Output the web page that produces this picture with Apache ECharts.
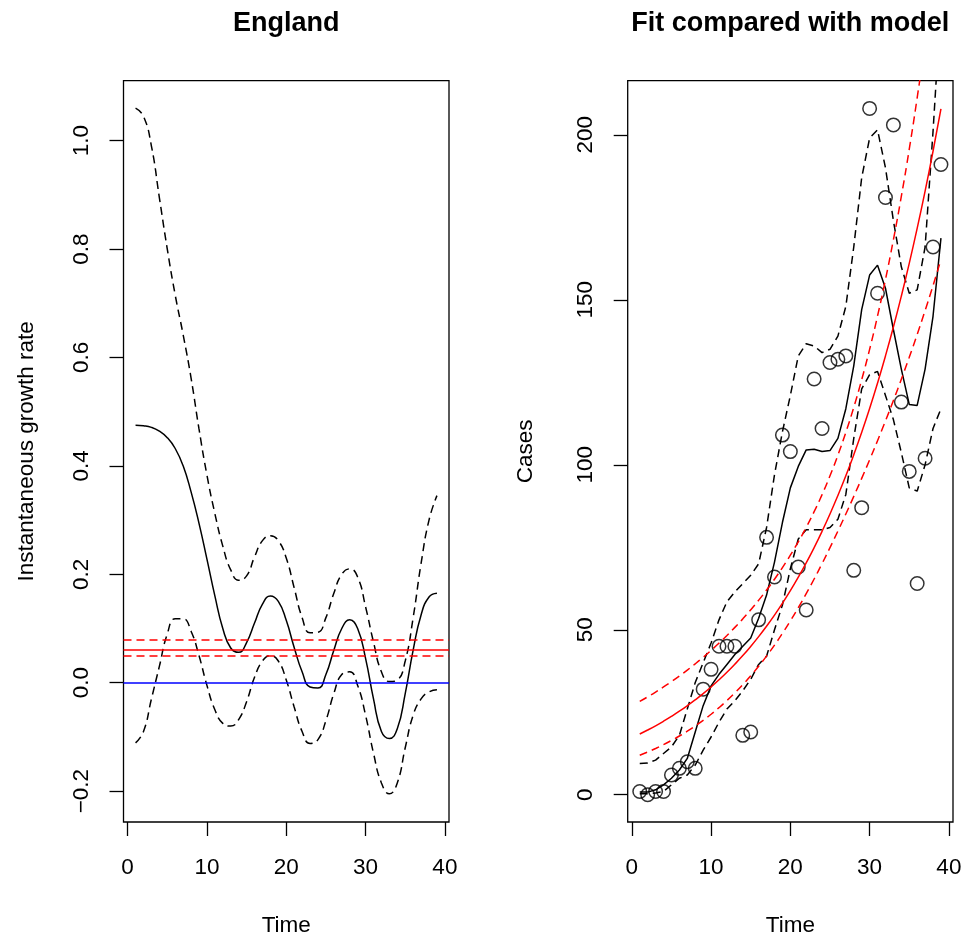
<!DOCTYPE html>
<html>
<head>
<meta charset="utf-8">
<script src="https://cdn.jsdelivr.net/npm/echarts@6/dist/echarts.min.js"></script>
<style>
  html, body { margin: 0; padding: 0; background: #fff; }
  #chart { width: 968px; height: 942px; }
</style>
</head>
<body>
<div id="chart"></div>
<script>
// Time index (days)
const days = [1,2,3,4,5,6,7,8,9,10,11,12,13,14,15,16,17,18,19,20,21,22,23,24,25,26,27,28,29,30,31,32,33,34,35,36,37,38,39];

// Instantaneous growth rate: smoothed estimate and its interval
const growthRate = [0.475,0.474,0.471,0.464,0.452,0.432,0.400,0.352,0.294,0.228,0.160,0.100,0.064,0.056,0.074,0.110,0.145,0.160,0.150,0.115,0.065,0.020,-0.008,-0.010,0.015,0.060,0.100,0.116,0.100,0.045,-0.030,-0.090,-0.103,-0.085,-0.020,0.060,0.125,0.158,0.165];
const growthUpper = [1.060,1.045,0.990,0.895,0.800,0.715,0.642,0.562,0.468,0.383,0.312,0.252,0.208,0.189,0.197,0.232,0.262,0.271,0.262,0.230,0.175,0.120,0.092,0.093,0.120,0.165,0.200,0.210,0.195,0.140,0.075,0.020,0.002,0.005,0.040,0.120,0.220,0.300,0.345];
const growthLower = [-0.111,-0.090,-0.030,0.030,0.090,0.118,0.118,0.095,0.050,-0.005,-0.050,-0.075,-0.080,-0.068,-0.035,0.010,0.040,0.050,0.040,0.005,-0.045,-0.090,-0.112,-0.105,-0.070,-0.020,0.015,0.020,-0.005,-0.060,-0.130,-0.185,-0.205,-0.185,-0.120,-0.060,-0.030,-0.017,-0.013];

// Constant growth rate from the exponential model (lower, estimate, upper) and zero
const modelRate = [0.0497, 0.0639, 0.0792];
const zeroRate = 0;

// Daily cases
const cases = [1,0,1,1,6,8,10,8,32,38,45,45,45,18,19,53,78,66,109,104,69,56,126,111,131,132,133,68,87,208,152,181,203,119,98,64,102,166,191];

// Smoothed case curve and its interval
const casesSmooth = [0.8,0.8,1.5,3,5,7.5,11,19,27,33,36.5,39.5,42.5,45,47.5,53.5,60.5,70.5,82.5,93,99.5,104.5,104.7,104,104.3,108,117,130,147,157.5,160.5,153.5,141,129,118.3,118,129,145,168.7];
const casesSmoothUpper = [9.5,9.6,10.5,12.5,14.5,18,26,34,40,46,53,58.5,61.5,64,66.5,70,81,97,110,121,133,136.7,136,134,135,139,148,166,187,199,201.5,190,174,160,152,153,166,201,240];
const casesSmoothLower = [0.3,0.3,0.5,1,3,5,6,9,13.5,17.5,22,26,28.5,31.5,35,39.5,42,50,57.5,68.5,77.5,80.3,80.3,80.3,81,83.5,91,108,123,127.3,128.3,121,113.7,103.7,93,92,100,111,117];

// Exponential model fit and its interval
const modelCases = [18.40,19.61,20.90,22.28,23.75,25.31,26.98,28.76,30.65,32.67,34.83,37.12,39.57,42.17,44.95,47.91,51.07,54.43,58.02,61.84,65.92,70.26,74.89,79.82,85.08,90.69,96.66,103.03,109.82,117.05,124.77,132.99,141.75,151.09,161.04,171.65,182.96,195.02,207.87];
const modelUpper = [28.28,29.67,31.13,32.68,34.30,35.99,37.79,39.67,41.65,43.74,45.95,48.26,50.72,53.30,56.04,58.95,62.04,65.32,68.84,72.60,76.65,81.02,85.78,90.96,96.66,102.92,109.82,117.41,125.79,134.98,145.08,156.13,168.19,181.32,195.63,211.22,228.11,246.51,266.45];
const modelLower = [11.97,12.96,14.03,15.19,16.45,17.80,19.26,20.85,22.56,24.40,26.40,28.55,30.87,33.36,36.05,38.94,42.04,45.35,48.90,52.67,56.69,60.93,65.38,70.04,74.89,79.92,85.08,90.41,95.88,101.50,107.30,113.28,119.47,125.90,132.57,139.50,146.74,154.29,162.17];

// Axis ticks
const timeTicks = [0, 10, 20, 30, 40];
const rateTicks = [-0.2, 0, 0.2, 0.4, 0.6, 0.8, 1.0];
const caseTicks = [0, 50, 100, 150, 200];

const FONT = '"Liberation Sans", Arial, Helvetica, sans-serif';
const LABEL_SIZE = 22.5;
const DASH = [8, 5];

const pairs = arr => days.map((d, i) => [d, arr[i]]);
const fmtRate = v => (v < 0 ? '\u2212' + Math.abs(v).toFixed(1) : v.toFixed(1));

function timeAxis(gridIndex) {
  return {
    type: 'value', gridIndex: gridIndex, min: -0.52, max: 40.52,
    name: 'Time', nameLocation: 'middle', nameGap: 92,
    nameTextStyle: { fontFamily: FONT, fontSize: LABEL_SIZE, color: '#000' },
    axisLine: { show: false, onZero: false },
    splitLine: { show: false },
    axisTick: { show: true, customValues: timeTicks, length: 14, lineStyle: { color: '#000', width: 1.3 } },
    axisLabel: { customValues: timeTicks, margin: 34, fontFamily: FONT, fontSize: LABEL_SIZE, color: '#000' }
  };
}

function valueAxis(gridIndex, min, max, ticks, title, gap, fmt) {
  return {
    type: 'value', gridIndex: gridIndex, min: min, max: max,
    name: title, nameLocation: 'middle', nameGap: gap, nameRotate: 90,
    nameTextStyle: { fontFamily: FONT, fontSize: LABEL_SIZE, color: '#000' },
    axisLine: { show: false, onZero: false },
    splitLine: { show: false },
    axisTick: { show: true, customValues: ticks, length: 14, lineStyle: { color: '#000', width: 1.3 } },
    axisLabel: { customValues: ticks, rotate: 90, margin: 30, fontFamily: FONT, fontSize: LABEL_SIZE, color: '#000', formatter: fmt }
  };
}

function line(xi, data, color, dashed, smooth) {
  return {
    type: 'line', xAxisIndex: xi, yAxisIndex: xi, data: pairs(data),
    showSymbol: false, symbol: 'none', smooth: smooth, silent: true,
    lineStyle: { color: color, width: 1.5, type: dashed ? DASH : 'solid' },
    z: 3
  };
}

const growthLine = line(0, growthRate, '#000', false, true);
growthLine.markLine = {
  silent: true, symbol: ['none', 'none'], label: { show: false }, animation: false,
  data: [
    { yAxis: zeroRate, lineStyle: { color: '#0000FF', width: 1.5, type: 'solid' } },
    { yAxis: modelRate[0], lineStyle: { color: '#FF0000', width: 1.5, type: DASH } },
    { yAxis: modelRate[1], lineStyle: { color: '#FF0000', width: 1.5, type: 'solid' } },
    { yAxis: modelRate[2], lineStyle: { color: '#FF0000', width: 1.5, type: DASH } }
  ]
};

const option = {
  animation: false,
  backgroundColor: '#fff',
  grid: [
    { left: 123.5, top: 80.7, width: 325.5, height: 742.6, show: true, borderColor: '#000', borderWidth: 1.3, backgroundColor: 'transparent' },
    { left: 627.7, top: 80.7, width: 325.3, height: 742.6, show: true, borderColor: '#000', borderWidth: 1.3, backgroundColor: 'transparent' }
  ],
  xAxis: [timeAxis(0), timeAxis(1)],
  yAxis: [
    valueAxis(0, -0.257, 1.1105, rateTicks, 'Instantaneous growth rate', 85.5, fmtRate),
    valueAxis(1, -8.26, 216.4, caseTicks, 'Cases', 90, v => String(v))
  ],
  graphic: [
    { type: 'text', x: 286.3, y: 23.5, style: { text: 'England', font: 'bold 27px ' + FONT, fill: '#000', align: 'center', verticalAlign: 'middle' } },
    { type: 'text', x: 790.3, y: 23.5, style: { text: 'Fit compared with model', font: 'bold 27px ' + FONT, fill: '#000', align: 'center', verticalAlign: 'middle' } }
  ],
  series: [
    line(0, growthUpper, '#000', true, true),
    growthLine,
    line(0, growthLower, '#000', true, true),
    {
      type: 'scatter', xAxisIndex: 1, yAxisIndex: 1, data: pairs(cases),
      symbol: 'circle', symbolSize: 13.5, silent: true,
      itemStyle: { color: 'rgba(0,0,0,0)', borderColor: '#000', borderWidth: 1.5 },
      z: 2
    },
    line(1, casesSmooth, '#000', false, false),
    line(1, casesSmoothUpper, '#000', true, false),
    line(1, casesSmoothLower, '#000', true, false),
    line(1, modelCases, '#FF0000', false, true),
    line(1, modelUpper, '#FF0000', true, true),
    line(1, modelLower, '#FF0000', true, true)
  ]
};

const chart = echarts.init(document.getElementById('chart'), null, { renderer: 'canvas' });
chart.setOption(option);
</script>
</body>
</html>
